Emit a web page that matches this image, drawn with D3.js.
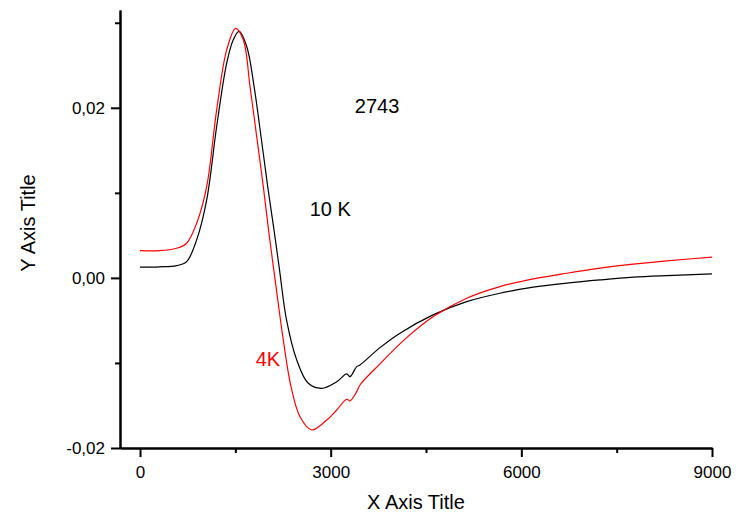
<!DOCTYPE html>
<html>
<head>
<meta charset="utf-8">
<script src="https://cdn.jsdelivr.net/npm/d3@7"></script>
<style>
  body { margin: 0; background: #fff; }
  svg { display: block; font-family: "Liberation Sans", Arial, sans-serif; }
  .axis path, .axis line { stroke: #000; stroke-width: 2; }
  .axis text { font-size: 17px; fill: #000; }
</style>
</head>
<body>
<svg width="736" height="513"></svg>
<script>
// 10 K curve (black)
var xBlack = [0, 300, 577, 734, 891, 1049, 1206, 1364, 1468, 1558, 1679, 1795, 1904, 2009, 2108, 2195, 2305, 2466, 2648, 2859, 3095, 3252, 3304, 3410, 3461, 3776, 4091, 4610, 5140, 5664, 6188, 6714, 7238, 7762, 8287, 9000];
var yBlack = [0.00126, 0.0013, 0.00145, 0.00192, 0.00447, 0.00918, 0.0178, 0.02526, 0.028, 0.02898, 0.02721, 0.0225, 0.01662, 0.01074, 0.00565, 0.00094, -0.00494, -0.00965, -0.01239, -0.01298, -0.0122, -0.01129, -0.01161, -0.01043, -0.01024, -0.0082, -0.0065, -0.00435, -0.00279, -0.0018, -0.00109, -0.00062, -0.00024, 0.00008, 0.00027, 0.00047];

// 4K curve (red)
var xRed = [0, 300, 577, 734, 891, 1049, 1206, 1364, 1505, 1625, 1731, 1836, 1940, 2022, 2140, 2247, 2376, 2517, 2702, 2938, 3095, 3252, 3304, 3410, 3461, 3776, 4170, 4615, 5140, 5664, 6188, 6714, 7238, 7762, 8287, 9000];
var yRed = [0.00321, 0.0032, 0.00349, 0.00408, 0.00643, 0.01074, 0.01976, 0.02682, 0.02935, 0.028, 0.0225, 0.01662, 0.01074, 0.00565, -0.00102, -0.00691, -0.01279, -0.01632, -0.01788, -0.01671, -0.01553, -0.01427, -0.01447, -0.01337, -0.01259, -0.0101, -0.0072, -0.00455, -0.00239, -0.00102, -0.00012, 0.00055, 0.00114, 0.00161, 0.002, 0.00244];

var xMajor = [0, 3000, 6000, 9000],
    xMinor = [1500, 4500, 7500],
    yMajor = [-0.02, 0, 0.02],
    yMinor = [-0.01, 0.01, 0.03];

var labels = [
  {text: "2743", x: 3380, y: 0.0194, color: "#000"},
  {text: "10 K", x: 2670, y: 0.0073, color: "#000"},
  {text: "4K", x: 1820, y: -0.0104, color: "#f00"}
];

var svg = d3.select("svg");

var x = d3.scaleLinear().domain([-315, 9000]).range([120, 712]);
var y = d3.scaleLinear().domain([-0.02, 0.0315]).range([448, 10]);

var fmt = function(d) {
  return (Math.abs(d) < 1e-9 ? 0 : d).toFixed(2).replace(".", ",");
};

// minor ticks first, then the major axes on top
svg.append("g")
    .attr("class", "axis")
    .attr("transform", "translate(0,448)")
    .call(d3.axisBottom(x).tickValues(xMinor).tickSize(5).tickSizeOuter(0).tickFormat(""));
svg.append("g")
    .attr("class", "axis")
    .attr("transform", "translate(120,0)")
    .call(d3.axisLeft(y).tickValues(yMinor).tickSize(5).tickSizeOuter(0).tickFormat(""));

svg.append("g")
    .attr("class", "axis")
    .attr("transform", "translate(0,448)")
    .call(d3.axisBottom(x).tickValues(xMajor).tickSize(9).tickSizeOuter(0).tickPadding(9).tickFormat(d3.format("d")));
svg.append("g")
    .attr("class", "axis")
    .attr("transform", "translate(120,0)")
    .call(d3.axisLeft(y).tickValues(yMajor).tickSize(9).tickSizeOuter(0).tickPadding(6).tickFormat(fmt));

var line = d3.line()
    .x(function(d) { return x(d[0]); })
    .y(function(d) { return y(d[1]); })
    .curve(d3.curveCatmullRom.alpha(0.5));

svg.append("path")
    .datum(d3.zip(xBlack, yBlack))
    .attr("fill", "none")
    .attr("stroke", "#000")
    .attr("stroke-width", 1.2)
    .attr("d", line);

svg.append("path")
    .datum(d3.zip(xRed, yRed))
    .attr("fill", "none")
    .attr("stroke", "#f00")
    .attr("stroke-width", 1.2)
    .attr("d", line);

svg.selectAll(".note")
    .data(labels)
  .enter().append("text")
    .attr("class", "note")
    .attr("x", function(d) { return x(d.x); })
    .attr("y", function(d) { return y(d.y); })
    .attr("fill", function(d) { return d.color; })
    .style("font-size", "20px")
    .text(function(d) { return d.text; });

svg.append("text")
    .attr("x", 416)
    .attr("y", 509)
    .attr("text-anchor", "middle")
    .style("font-size", "20px")
    .text("X Axis Title");

svg.append("text")
    .attr("transform", "translate(35,223) rotate(-90)")
    .attr("text-anchor", "middle")
    .style("font-size", "20px")
    .text("Y Axis Title");
</script>
</body>
</html>
